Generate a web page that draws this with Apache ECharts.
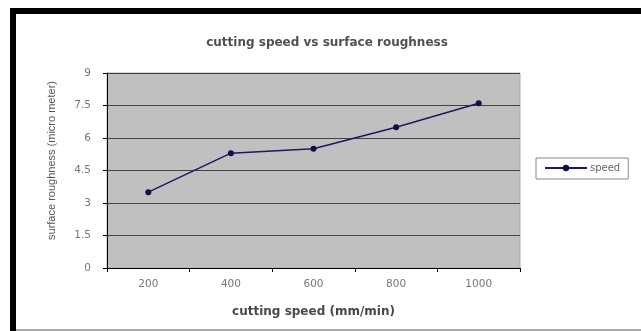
<!DOCTYPE html>
<html>
<head>
<meta charset="utf-8">
<script src="https://cdn.jsdelivr.net/npm/echarts@6/dist/echarts.min.js"></script>
<style>
html,body{margin:0;padding:0;background:#fff;}
#c{width:641px;height:331px;}
</style>
</head>
<body>
<div id="c"></div>
<script>
const categories = ['200', '400', '600', '800', '1000'];
const speedValues = [3.5, 5.3, 5.5, 6.5, 7.6];
const seriesName = 'speed';
const titleText = 'cutting speed vs surface roughness';
const xName = 'cutting speed (mm/min)';
const yName = 'surface roughness (micro meter)';

const chart = echarts.init(document.getElementById('c'), null, {renderer: 'canvas'});
const font = 'DejaVu Sans';
chart.setOption({
  backgroundColor: '#ffffff',
  animation: false,
  title: {
    text: titleText,
    left: 322, top: 32, textAlign: 'center',
    textStyle: {fontFamily: 'DejaVu Sans', fontSize: 12, fontWeight: 'bold', color: '#505050'}
  },
  legend: {
    data: [seriesName],
    left: 536, top: 158,
    orient: 'vertical',
    borderColor: '#888', borderWidth: 1,
    padding: [5, 8, 6, 8],
    itemWidth: 42, itemHeight: 8, itemGap: 2,
    textStyle: {fontFamily: font, fontSize: 10, color: '#666', padding: [0, 0, 0, -2]}
  },
  grid: {left: 107, top: 73, width: 413, height: 195, show: true, backgroundColor: '#c0c0c0', borderColor: '#aaa', borderWidth: 1},
  xAxis: {
    type: 'category', data: categories, boundaryGap: true,
    name: xName, nameLocation: 'middle', nameGap: 38,
    nameTextStyle: {fontFamily: 'DejaVu Sans', fontSize: 12, fontWeight: 'bold', color: '#484848'},
    axisLine: {lineStyle: {color: '#000', width: 1}},
    axisTick: {show: true, alignWithLabel: false, length: 4, lineStyle: {color: '#000'}},
    axisLabel: {fontFamily: font, fontSize: 10.5, color: '#777', margin: 11}
  },
  yAxis: {
    type: 'value', min: 0, max: 9, interval: 1.5,
    name: yName, nameLocation: 'middle', nameGap: 50, nameRotate: 90,
    nameTextStyle: {fontFamily: 'Liberation Sans', fontSize: 11, color: '#555', padding: [0, 0, 0, 20]},
    axisLine: {show: true, lineStyle: {color: '#000', width: 1}},
    axisTick: {show: true, length: 4, lineStyle: {color: '#000'}},
    axisLabel: {fontFamily: font, fontSize: 10.5, color: '#777', margin: 16},
    splitLine: {lineStyle: {color: '#444', width: 1}}
  },
  series: [{
    name: seriesName, type: 'line', data: speedValues,
    symbol: 'circle', symbolSize: 6,
    lineStyle: {color: '#1a1a5e', width: 1.5},
    itemStyle: {color: '#101048'}
  }],
  graphic: [
    {type: 'rect', shape: {x: 10, y: 8, width: 631, height: 6}, style: {fill: '#000'}},
    {type: 'rect', shape: {x: 10, y: 8, width: 6, height: 323}, style: {fill: '#000'}},
    {type: 'rect', shape: {x: 16, y: 329, width: 625, height: 2}, style: {fill: '#aaa'}}
  ]
});
</script>
</body>
</html>
